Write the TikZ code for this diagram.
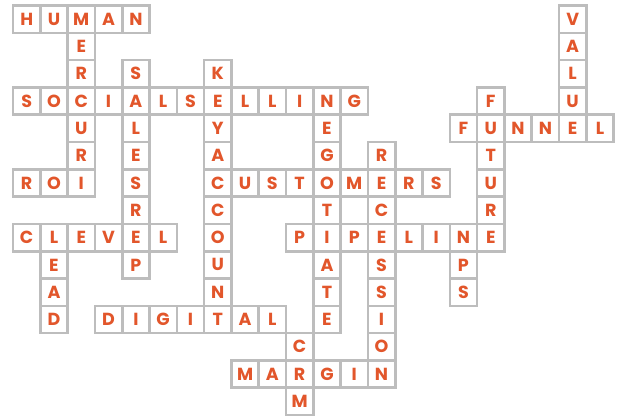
\documentclass[tikz,border=0pt]{standalone}
\usepackage{fontspec}
\setmainfont{Poppins}
\definecolor{letter}{HTML}{E2562B}
\definecolor{gridgray}{HTML}{BDBDBD}
\tikzset{cellbox/.style={draw=gridgray, line width=2.6pt, fill=white, minimum size=27.3pt, inner sep=0pt, font=\fontsize{17.5}{17.5}\selectfont\bfseries, text=letter}}
\begin{document}
\begin{tikzpicture}[x=1pt,y=1pt]
\useasboundingbox (0,0) rectangle (621,-416);
\foreach \c/\r/\t in {
0/0/H,1/0/U,2/0/M,3/0/A,4/0/N,20/0/V,
2/1/E,20/1/A,
2/2/R,4/2/S,7/2/K,20/2/L,
0/3/S,1/3/O,2/3/C,3/3/I,4/3/A,5/3/L,6/3/S,7/3/E,8/3/L,9/3/L,10/3/I,11/3/N,12/3/G,17/3/F,20/3/U,
2/4/U,4/4/L,7/4/Y,11/4/E,16/4/F,17/4/U,18/4/N,19/4/N,20/4/E,21/4/L,
2/5/R,4/5/E,7/5/A,11/5/G,13/5/R,17/5/T,
0/6/R,1/6/O,2/6/I,4/6/S,7/6/C,8/6/U,9/6/S,10/6/T,11/6/O,12/6/M,13/6/E,14/6/R,15/6/S,17/6/U,
4/7/R,7/7/C,11/7/T,13/7/C,17/7/R,
0/8/C,1/8/L,2/8/E,3/8/V,4/8/E,5/8/L,7/8/O,10/8/P,11/8/I,12/8/P,13/8/E,14/8/L,15/8/I,16/8/N,17/8/E,
1/9/E,4/9/P,7/9/U,11/9/A,13/9/S,16/9/P,
1/10/A,7/10/N,11/10/T,13/10/S,16/10/S,
1/11/D,3/11/D,4/11/I,5/11/G,6/11/I,7/11/T,8/11/A,9/11/L,11/11/E,13/11/I,
10/12/C,13/12/O,
8/13/M,9/13/A,10/13/R,11/13/G,12/13/I,13/13/N,
10/14/M}
{\node[cellbox] (c\c-\r) at ({26.65+27.3*\c},{-(19.15+27.3*\r)}) {\t};}
\end{tikzpicture}
\end{document}
